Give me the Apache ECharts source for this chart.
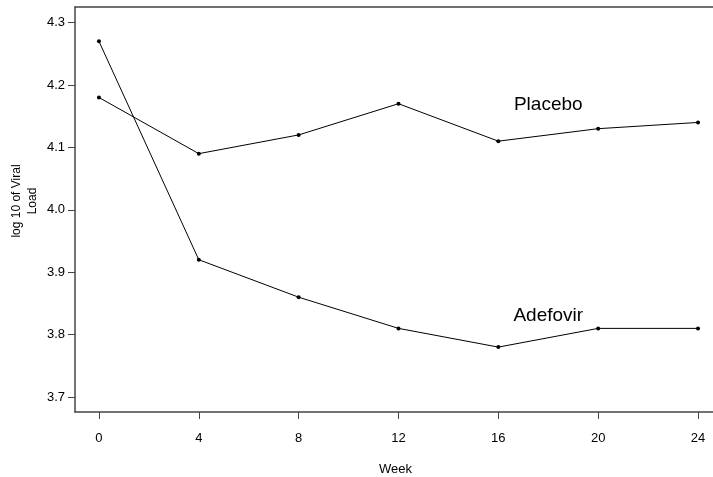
<!DOCTYPE html>
<html>
<head>
<meta charset="utf-8">
<script src="https://cdn.jsdelivr.net/npm/echarts@6/dist/echarts.min.js"></script>
<style>
  html, body { margin: 0; padding: 0; background: #fff; }
  #chart { width: 713px; height: 477px; }
</style>
</head>
<body>
<div id="chart"></div>
<script>
const weeks = [0, 4, 8, 12, 16, 20, 24];
const placebo = [4.18, 4.09, 4.12, 4.17, 4.11, 4.13, 4.14];
const adefovir = [4.27, 3.92, 3.86, 3.81, 3.78, 3.81, 3.81];
const yTicks = [3.7, 3.8, 3.9, 4.0, 4.1, 4.2, 4.3];
const xTicks = [0, 4, 8, 12, 16, 20, 24];
const yTitle = 'log 10 of Viral\nLoad';

const font = 'Liberation Sans, Arial, sans-serif';
const axisColor = '#444';

const chart = echarts.init(document.getElementById('chart'));

const lineSeries = (name, vals, labelAt) => ({
  name: name,
  type: 'line',
  data: weeks.map((w, i) => [w, vals[i]]),
  symbol: 'circle',
  symbolSize: 4,
  itemStyle: { color: '#000' },
  lineStyle: { color: '#000', width: 1 },
  animation: false,
  markPoint: {
    symbol: 'circle',
    symbolSize: 0,
    label: {
      show: true,
      position: 'inside',
      formatter: name,
      color: '#000',
      fontFamily: font,
      fontSize: 19
    },
    data: [{ coord: labelAt }]
  }
});

const option = {
  backgroundColor: '#fff',
  grid: { left: 75, right: -3, top: 7, bottom: 65, outerBoundsMode: 'none', containLabel: false },
  // y title drawn as free text so v6 label avoidance doesn't push it around
  graphic: [{
    type: 'text',
    x: 25,
    y: 201,
    rotation: Math.PI / 2,
    style: {
      text: yTitle,
      fill: '#000',
      font: '12px ' + font,
      align: 'center',
      verticalAlign: 'middle',
      lineHeight: 16
    }
  }],
  xAxis: [{
    type: 'value',
    min: -0.96,
    max: 24.72,
    name: 'Week',
    nameLocation: 'middle',
    nameGap: 51,
    nameTextStyle: { color: '#000', fontFamily: font, fontSize: 13 },
    axisLine: { show: true, onZero: false, lineStyle: { color: axisColor, width: 1.5 } },
    axisTick: { show: true, length: 7, customValues: xTicks, lineStyle: { color: axisColor } },
    axisLabel: { customValues: xTicks, color: '#000', fontFamily: font, fontSize: 13, margin: 20 },
    splitLine: { show: false }
  }, {
    type: 'value',
    position: 'top',
    min: -0.96,
    max: 24.72,
    axisLine: { show: true, onZero: false, lineStyle: { color: axisColor, width: 1.5 } },
    axisTick: { show: false },
    axisLabel: { show: false },
    splitLine: { show: false }
  }],
  yAxis: {
    type: 'value',
    position: 'left',
    min: 3.676,
    max: 4.325,
    axisLine: { show: true, onZero: false, lineStyle: { color: axisColor, width: 1.5 } },
    axisTick: { show: true, length: 7, customValues: yTicks, lineStyle: { color: axisColor } },
    axisLabel: {
      customValues: yTicks,
      color: '#000',
      fontFamily: font,
      fontSize: 13,
      margin: 10,
      formatter: (v) => v.toFixed(1)
    },
    splitLine: { show: false }
  },
  series: [
    lineSeries('Placebo', placebo, [18.0, 4.168]),
    lineSeries('Adefovir', adefovir, [18.0, 3.83])
  ]
};

chart.setOption(option);

window.addEventListener('resize', function () {
  chart.resize();
});
</script>
</body>
</html>
